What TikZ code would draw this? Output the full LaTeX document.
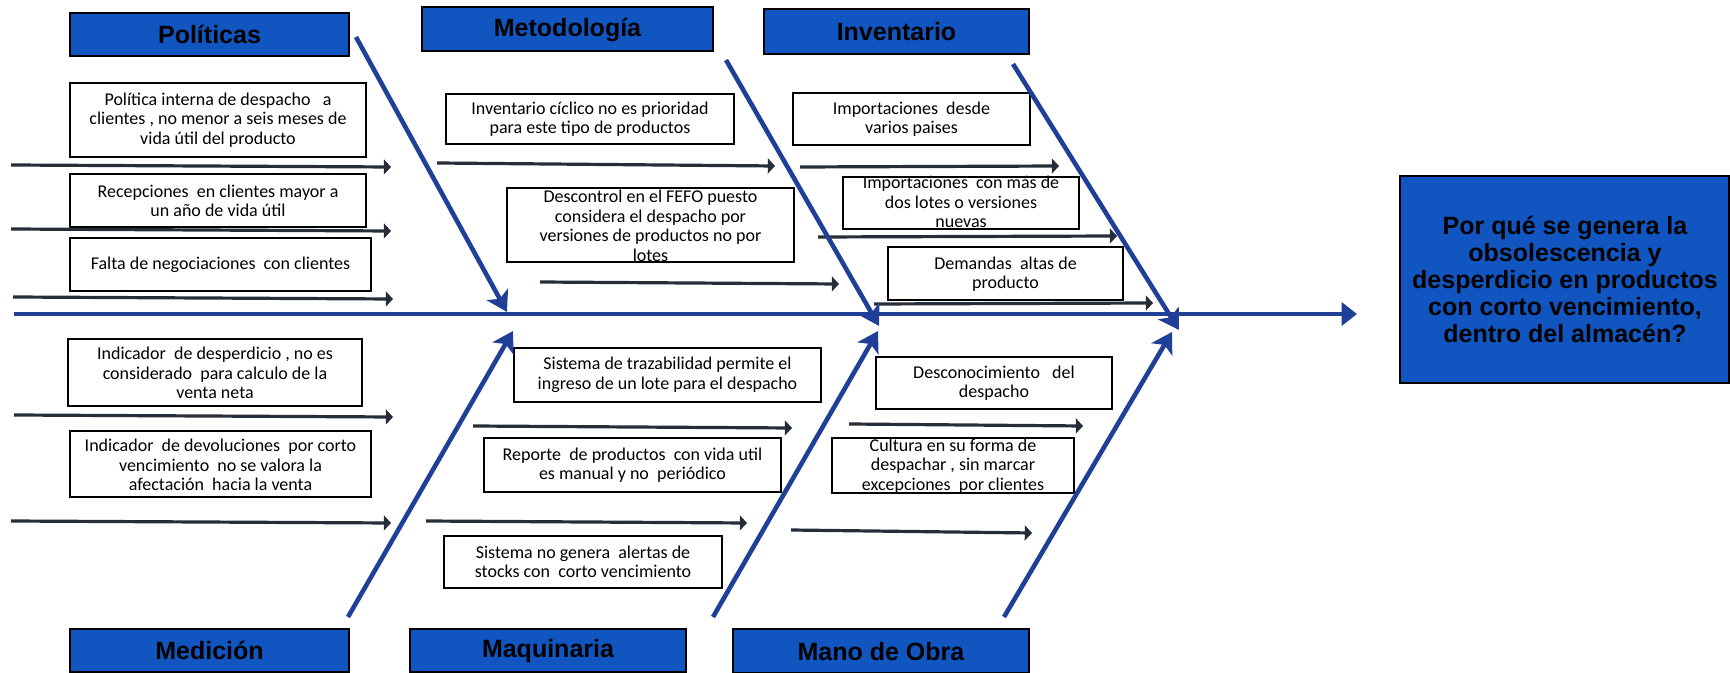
\documentclass[tikz,border=0pt]{standalone}
\usepackage{fontspec}
\setmainfont{Carlito}
\newfontfamily\cabezafont{Liberation Sans}
\usepackage{tikz}
\usetikzlibrary{arrows.meta}
\definecolor{HeaderBlue}{RGB}{17, 86, 192}
\definecolor{BoneBlue}{RGB}{32, 64, 152}
\definecolor{InkSlate}{RGB}{38, 45, 56}

\begin{document}
\begin{tikzpicture}[x=0.5pt, y=-0.5pt,
    caja/.style={draw=black, line width=1pt, fill=white},
    cabeza/.style={draw=black, line width=1.2pt, fill=HeaderBlue},
    txt/.style={align=center, inner sep=0pt, font=\fontsize{9}{9.75}\selectfont},
    titulo/.style={align=center, inner sep=0pt, font=\cabezafont\bfseries\fontsize{12.5}{13.5}\selectfont},
    flecha/.style={InkSlate, line width=1.6pt, -{Triangle[length=3.6pt, width=7.5pt]}},
    espina/.style={BoneBlue, line width=2.3pt, -{Stealth[length=10pt, width=12pt, inset=2.5pt]}}]
    \useasboundingbox (0,0) rectangle (1730,673);

    % Políticas
    \draw[cabeza] (70,13) rectangle (349,56);
    \node[titulo] (pol) at (209.5,34.5) {Políticas};
    \draw[caja] (70,83) rectangle (366,157);
    \node[txt] (pol1) at (218,120) {Política interna de despacho \ \ a\\clientes , no menor a seis meses de\\vida útil del producto};
    \draw[caja] (70,174) rectangle (366,227);
    \node[txt] (pol2) at (218,201) {Recepciones \ en clientes mayor a\\un año de vida útil};
    \draw[caja] (70,238) rectangle (371,291);
    \node[txt] (pol3) at (220.5,264.5) {Falta de negociaciones \ con clientes};
    \draw[flecha] (11,165) -- (391,167);
    \draw[flecha] (11,229) -- (391,231);
    \draw[flecha] (13,297) -- (393,299);

    % Metodología
    \draw[cabeza] (422,7) rectangle (713,51);
    \node[titulo] (met) at (567.5,30) {Metodología};
    \draw[caja] (446,94) rectangle (734,144);
    \node[txt] (met1) at (590,119) {Inventario cíclico no es prioridad\\para este tipo de productos};
    \draw[caja] (507,188) rectangle (794,262);
    \node[txt] (met2) at (650.5,226) {Descontrol en el FEFO puesto\\considera el despacho por\\versiones de productos no por\\lotes};
    \draw[flecha] (437,163) -- (775,166);
    \draw[flecha] (540,282) -- (839,284);

    % Inventario
    \draw[cabeza] (764,9) rectangle (1029,54);
    \node[titulo] (inv) at (896.5,31.5) {Inventario};
    \draw[caja] (793,93) rectangle (1030,145);
    \node[txt] (inv1) at (911.5,119) {Importaciones \ desde\\varios paises};
    \draw[caja] (843,177) rectangle (1079,229);
    \node[txt] (inv2) at (961,202) {Importaciones \ con más de\\dos lotes o versiones\\nuevas};
    \draw[caja] (888,247) rectangle (1123,300);
    \node[txt] (inv3) at (1005.5,274) {Demandas \ altas de\\producto};
    \draw[flecha] (800,167) -- (1059,166);
    \draw[flecha] (818,237) -- (1117,236);
    \draw[flecha] (874,304) -- (1153,303);

    % Medición
    \draw[cabeza] (70,629) rectangle (349,672);
    \node[titulo] (med) at (209.5,650.5) {Medición};
    \draw[caja] (68,339) rectangle (362,406);
    \node[txt] (med1) at (215,373) {Indicador \ de desperdicio , no es\\considerado \ para calculo de la\\venta neta};
    \draw[caja] (70,431) rectangle (371,497);
    \node[txt] (med2) at (220.5,465) {Indicador \ de devoluciones \ por corto\\vencimiento \ no se valora la\\afectación \ hacia la venta};
    \draw[flecha] (14,415) -- (393,417);
    \draw[flecha] (11,521) -- (391,523);

    % Maquinaria
    \draw[cabeza] (410,629) rectangle (686,672);
    \node[titulo] (maq) at (548,651) {Maquinaria};
    \draw[caja] (514,348) rectangle (821,402);
    \node[txt] (maq1) at (667.5,375) {Sistema de trazabilidad permite el\\ingreso de un lote para el despacho};
    \draw[caja] (484,438) rectangle (781,492);
    \node[txt] (maq2) at (632.5,465) {Reporte \ de productos \ con vida util\\es manual y no \ periódico};
    \draw[caja] (444,536) rectangle (722,588);
    \node[txt] (maq3) at (583,562) {Sistema no genera \ alertas de\\stocks con \ corto vencimiento};
    \draw[flecha] (473,426) -- (792,428);
    \draw[flecha] (426,521) -- (747,523);

    % Mano de Obra
    \draw[cabeza] (733,629) rectangle (1029,673);
    \node[titulo] (obra) at (881,652) {Mano de Obra};
    \draw[caja] (876,357) rectangle (1112,409);
    \node[txt] (obra1) at (994,383) {Desconocimiento \ \ del\\despacho};
    \draw[caja] (832,438) rectangle (1074,493);
    \node[txt] (obra2) at (953,466) {Cultura en su forma de\\despachar , sin marcar\\excepciones \ por clientes};
    \draw[flecha] (849,424) -- (1083,426);
    \draw[flecha] (791,530) -- (1032,533);

    % Problema
    \draw[cabeza] (1400,176) rectangle (1729,383);
    \node[titulo] (prob) at (1565,279) {Por qué se genera la\\obsolescencia y\\desperdicio en productos\\con corto vencimiento,\\dentro del almacén?};

    % Espina central
    \coordinate (cola) at (14,314);
    \coordinate (cabezaesp) at (1357,314);
    \draw[BoneBlue, line width=2.3pt, -{Triangle[length=7.7pt, width=11.5pt]}] (cola) -- (cabezaesp);

    % Espinas de causas
    \draw[espina] (356,37) -- (507,312);
    \draw[espina] (726,60) -- (879,326);
    \draw[espina] (1013,64) -- (1179,330);
    \draw[espina] (348,617) -- (513,331);
    \draw[espina] (713,617) -- (878,331);
    \draw[espina] (1004,617) -- (1172,332);
\end{tikzpicture}
\end{document}
